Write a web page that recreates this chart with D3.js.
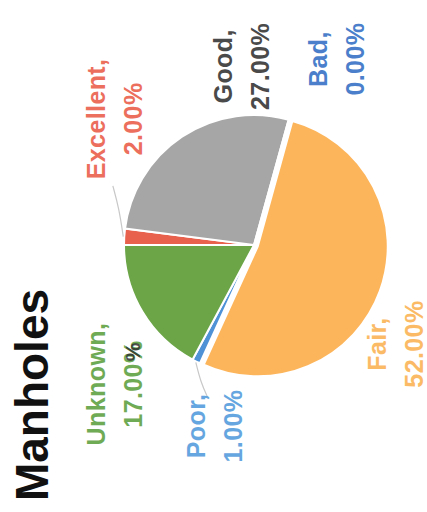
<!DOCTYPE html>
<html>
<head>
<meta charset="utf-8">
<script src="https://cdn.jsdelivr.net/npm/d3@7"></script>
<style>
html,body{margin:0;padding:0;background:#fff;}
svg{display:block;}
</style>
</head>
<body>
<svg id="chart" width="427" height="512"></svg>
<script>
// ---- data ----
const title = "Manholes";
const categories = ["Excellent", "Good", "Bad", "Fair", "Poor", "Unknown"];
const values = [2, 27, 0, 52, 1, 17];
const sliceColors = ["#E8614D", "#A6A6A6", "#4472C4", "#FDB55B", "#4F93D6", "#6BA548"];
const labelColors = ["#EC6E5C", "#4A4A4A", "#4B7FCB", "#FBBB66", "#66A6E0", "#6FAA55"];

// ---- layout (unrotated frame, degrees clockwise from 12 o'clock) ----
const W = 427, H = 512;
const cx = 254, cy = 245, R = 130;
const explode = [0, 0, 0, 4, 0, 0];
const labelAngle = [42.4, 86.5, 114.3, 214.7, 281.9, 314.8];
const labelRadius = [187, 179, 204, 174, 185, 196];
const leaderEnd = [[22.7, 153], null, null, null, [286.7, 160], null];

const svg = d3.select("#chart");
svg.append("rect").attr("width", W).attr("height", H).attr("fill", "#fff");

// whole chart is turned a quarter turn counter-clockwise
const g = svg.append("g").attr("transform", `translate(${cx},${cy}) rotate(-90)`);

const data = categories.map((c, i) => ({ cat: c, value: values[i], i }));
const pie = d3.pie().sort(null).value(d => d.value);
const arcs = pie(data);
const arc = d3.arc().innerRadius(0).outerRadius(R);
const rad = a => a * Math.PI / 180;
const polar = (aDeg, r) => [r * Math.sin(rad(aDeg)), -r * Math.cos(rad(aDeg))];

g.selectAll("path.slice").data(arcs).join("path")
  .attr("class", "slice")
  .attr("d", arc)
  .attr("fill", d => sliceColors[d.data.i])
  .attr("stroke", "#fff")
  .attr("stroke-width", 2)
  .attr("transform", d => {
    const m = (d.startAngle + d.endAngle) / 2;
    const e = explode[d.data.i];
    return `translate(${e * Math.sin(m)},${-e * Math.cos(m)})`;
  });

// leader lines
arcs.forEach(d => {
  const le = leaderEnd[d.data.i];
  if (!le) return;
  const m = (d.startAngle + d.endAngle) / 2;
  const p0 = [(R + 1) * Math.sin(m), -(R + 1) * Math.cos(m)];
  const p2 = polar(le[0], le[1]);
  const p1 = [(p0[0] * 0.6 + p2[0] * 0.4), (p0[1] * 0.6 + p2[1] * 0.4)];
  g.append("path")
    .attr("d", d3.line().curve(d3.curveBasis)([p0, [p1[0] + (p2[0]-p0[0])*0.15, p1[1]], p2]))
    .attr("fill", "none")
    .attr("stroke", "#C8C8C8")
    .attr("stroke-width", 1.2);
});

// labels
const fmt = d3.format(".2f");
arcs.forEach(d => {
  const i = d.data.i;
  const [x, y] = polar(labelAngle[i], labelRadius[i]);
  const t = g.append("text")
    .attr("text-anchor", "middle")
    .attr("font-family", "'Liberation Sans', Arial, sans-serif")
    .attr("font-weight", "bold")
    .attr("font-size", 25)
    .attr("letter-spacing", 0.4)
    .attr("fill", labelColors[i]);
  t.append("tspan").attr("x", x).attr("y", y - 11).text(d.data.cat + ",");
  t.append("tspan").attr("x", x).attr("y", y + 26).text(fmt(d.data.value) + "%");
});

// stray dark percent sign visible over the Unknown label in the source image
g.append("text")
  .attr("x", -107).attr("y", -114)
  .attr("text-anchor", "middle")
  .attr("font-family", "'Liberation Sans', Arial, sans-serif")
  .attr("font-weight", "bold")
  .attr("font-size", 21)
  .attr("fill", "#333")
  .attr("opacity", 0.85)
  .text("%");

// title
g.append("text")
  .attr("x", -150).attr("y", -206)
  .attr("text-anchor", "middle")
  .attr("font-family", "'Liberation Sans', Arial, sans-serif")
  .attr("font-weight", "bold")
  .attr("font-size", 46)
  .attr("fill", "#111")
  .text(title);
</script>
</body>
</html>
